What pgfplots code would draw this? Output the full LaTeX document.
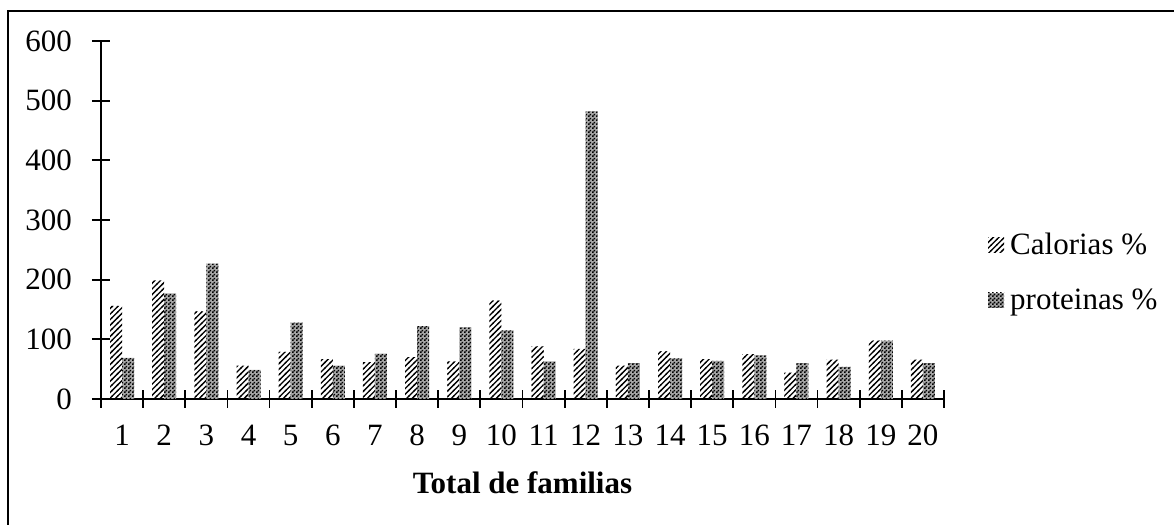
\documentclass[border=0pt]{standalone}
\usepackage{fontspec}
\setmainfont{Liberation Serif}
\usepackage{pgfplots}
\pgfplotsset{compat=1.18}
\usetikzlibrary{patterns}

\pgfdeclarepatternformonly{diag}{\pgfqpoint{-0.5pt}{-0.5pt}}{\pgfqpoint{3.5pt}{3.5pt}}{\pgfqpoint{2.8pt}{2.8pt}}{
  \pgfsetlinewidth{0.65pt}
  \pgfpathmoveto{\pgfqpoint{-0.3pt}{-0.3pt}}
  \pgfpathlineto{\pgfqpoint{3.1pt}{3.1pt}}
  \pgfusepath{stroke}}
\pgfdeclarepatternformonly{check}{\pgfpointorigin}{\pgfqpoint{2pt}{2pt}}{\pgfqpoint{2pt}{2pt}}{
  \pgfpathrectangle{\pgfpointorigin}{\pgfqpoint{1pt}{1pt}}
  \pgfpathrectangle{\pgfqpoint{1pt}{1pt}}{\pgfqpoint{1pt}{1pt}}
  \pgfusepath{fill}}

\newcommand{\chf}{\fontsize{15.5}{18}\selectfont}

\begin{document}
\begin{tikzpicture}
\useasboundingbox (0,0) rectangle (587pt,262.5pt);
\draw[line width=1pt] (4pt,257pt) rectangle (620pt,-20pt);
\begin{axis}[
  at={(50.5pt,63pt)}, anchor=south west,
  scale only axis, width=421.5pt, height=179pt,
  xmin=0.5, xmax=20.5, ymin=0, ymax=600,
  axis x line*=bottom, axis y line*=left,
  axis line style={line width=0.9pt},
  ybar=0pt, bar width=6pt,
  xtick={0.5,1.5,...,20.5},
  x tick label as interval,
  xticklabels={1,2,3,4,5,6,7,8,9,10,11,12,13,14,15,16,17,18,19,20},
  ytick={0,100,...,600},
  tick align=center, major tick length=9pt,
  tick style={line width=0.9pt, black},
  /pgf/number format/assume math mode=true,
  tick label style={font=\chf},
  xticklabel style={anchor=base, yshift=-19pt},
  yticklabel style={anchor=east, xshift=-6.5pt},
  xlabel={\textbf{Total de familias}},
  xlabel style={font=\chf, at={(axis description cs:0.5,0)}, anchor=base, yshift=-47.5pt},
  legend style={draw=none, fill=none, font=\chf, at={(rel axis cs:1.052,0.353)}, anchor=west,
    inner sep=0pt, row sep=15.5pt, nodes={inner sep=0pt}},
  legend cell align=left,
  legend image code/.code={\fill[#1] (0pt,-3.75pt) rectangle (8pt,3.75pt);},
  /tikz/every odd column/.append style={column sep=3pt},
]
\addplot[draw=none, pattern=diag] coordinates {
(1,156) (2,199) (3,147) (4,56) (5,79) (6,67) (7,62) (8,70) (9,63) (10,165)
(11,88) (12,84) (13,56) (14,80) (15,67) (16,75) (17,44) (18,66) (19,98) (20,66)};
\addplot[draw=none, fill=black!35, postaction={pattern=check}] coordinates {
(1,69) (2,177) (3,227) (4,49) (5,128) (6,56) (7,76) (8,122) (9,120) (10,115)
(11,63) (12,482) (13,60) (14,68) (15,64) (16,73) (17,60) (18,54) (19,98) (20,60)};
\legend{Calorias \%, proteinas \%}
\end{axis}
\end{tikzpicture}
\end{document}
